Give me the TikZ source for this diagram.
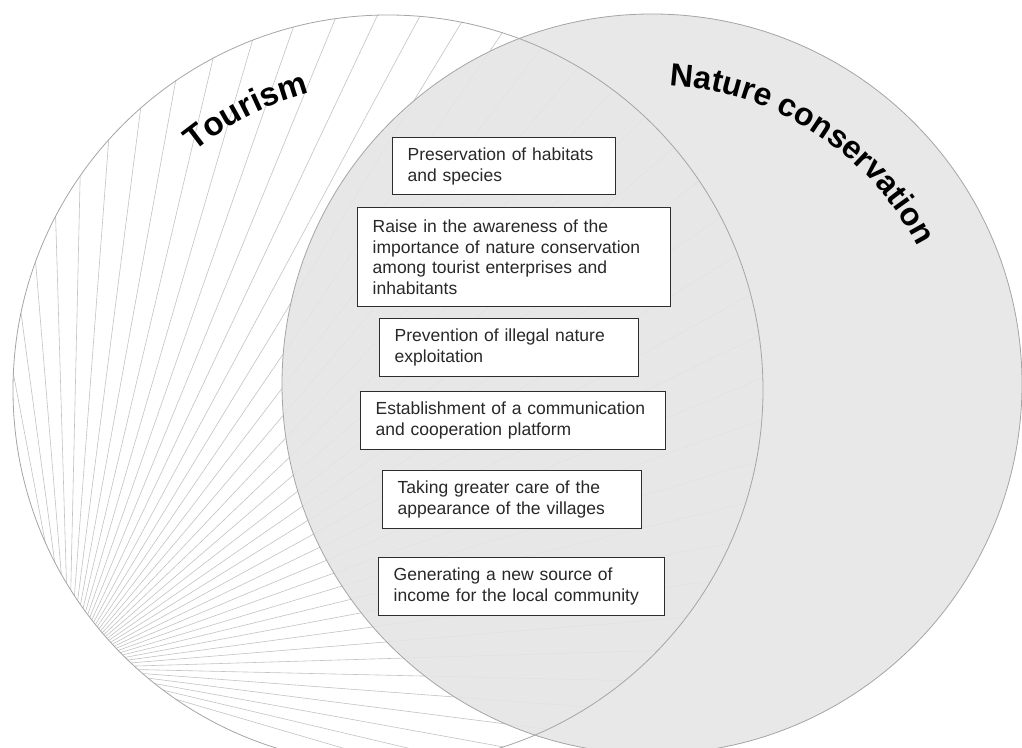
\documentclass[tikz,border=0pt]{standalone}
\usepackage{fontspec}
\setmainfont{Liberation Sans}
\usetikzlibrary{decorations.text}
\definecolor{linegray}{RGB}{195,195,195}
\definecolor{circgray}{RGB}{165,165,165}
\definecolor{fillgray}{RGB}{229,229,229}
\definecolor{boxline}{RGB}{45,45,45}
\definecolor{boxtext}{RGB}{40,40,40}
\begin{document}
\begin{tikzpicture}[x=1pt,y=1pt,
  fanline/.style={draw=linegray, line width=0.6pt},
  circleline/.style={draw=circgray, line width=0.8pt},
  itembox/.style={draw=boxline, line width=1.4pt, fill=white, anchor=north west,
    inner xsep=15pt, inner ysep=0pt, align=left, text=boxtext,
    font=\fontsize{17.5}{20.7}\selectfont},
  arclabel/.style={decorate, decoration={text along path, text align=center, text={#1}}}
]
\useasboundingbox (0,0) rectangle (1022,747);
\clip (0,0) rectangle (1022,747);
\coordinate (TC) at (388,357);
\coordinate (NC) at (652,363);
\coordinate (P) at (69,79);
% Tourism circle with fan of lines
\fill[white] (TC) circle[radius=375];
\begin{scope}
  \clip (TC) circle[radius=375];
  \foreach \k in {0,...,39} {\draw[fanline] (P) -- ++({-16.3+3*\k}:1200);}
\end{scope}
% Nature conservation circle
\fill[fillgray, fill opacity=0.9] (NC) circle[radius=370];
\draw[circleline] (TC) circle[radius=375];
\draw[circleline] (NC) circle[radius=370];
% curved labels
\path (TC) ++(147:307) coordinate (t1);
\path[arclabel={|\fontsize{33}{38}\selectfont\bfseries|Tourism}] (t1) arc[start angle=147, end angle=87, radius=307];
\path (NC) ++(110:299) coordinate (n1);
\path[arclabel={|\fontsize{32}{38}\selectfont\bfseries|Nature conservation}] (n1) arc[start angle=110, end angle=4, radius=299];
% boxes
\node[itembox, text width=193pt, minimum height=57pt] (b1) at (392,610) {Preservation of habitats\\and species};
\node[itembox, text width=283pt, minimum height=99pt] (b2) at (357,540) {Raise in the awareness of the\\importance of nature conservation\\among tourist enterprises and\\inhabitants};
\node[itembox, text width=229pt, minimum height=58pt] (b3) at (379,429) {Prevention of illegal nature\\exploitation};
\node[itembox, text width=275pt, minimum height=58pt] (b4) at (360,356) {Establishment of a communication\\and cooperation platform};
\node[itembox, text width=229pt, minimum height=58pt] (b5) at (382,277) {Taking greater care of the\\appearance of the villages};
\node[itembox, text width=256pt, minimum height=58pt] (b6) at (378,190) {Generating a new source of\\income for the local community};
\end{tikzpicture}
\end{document}
